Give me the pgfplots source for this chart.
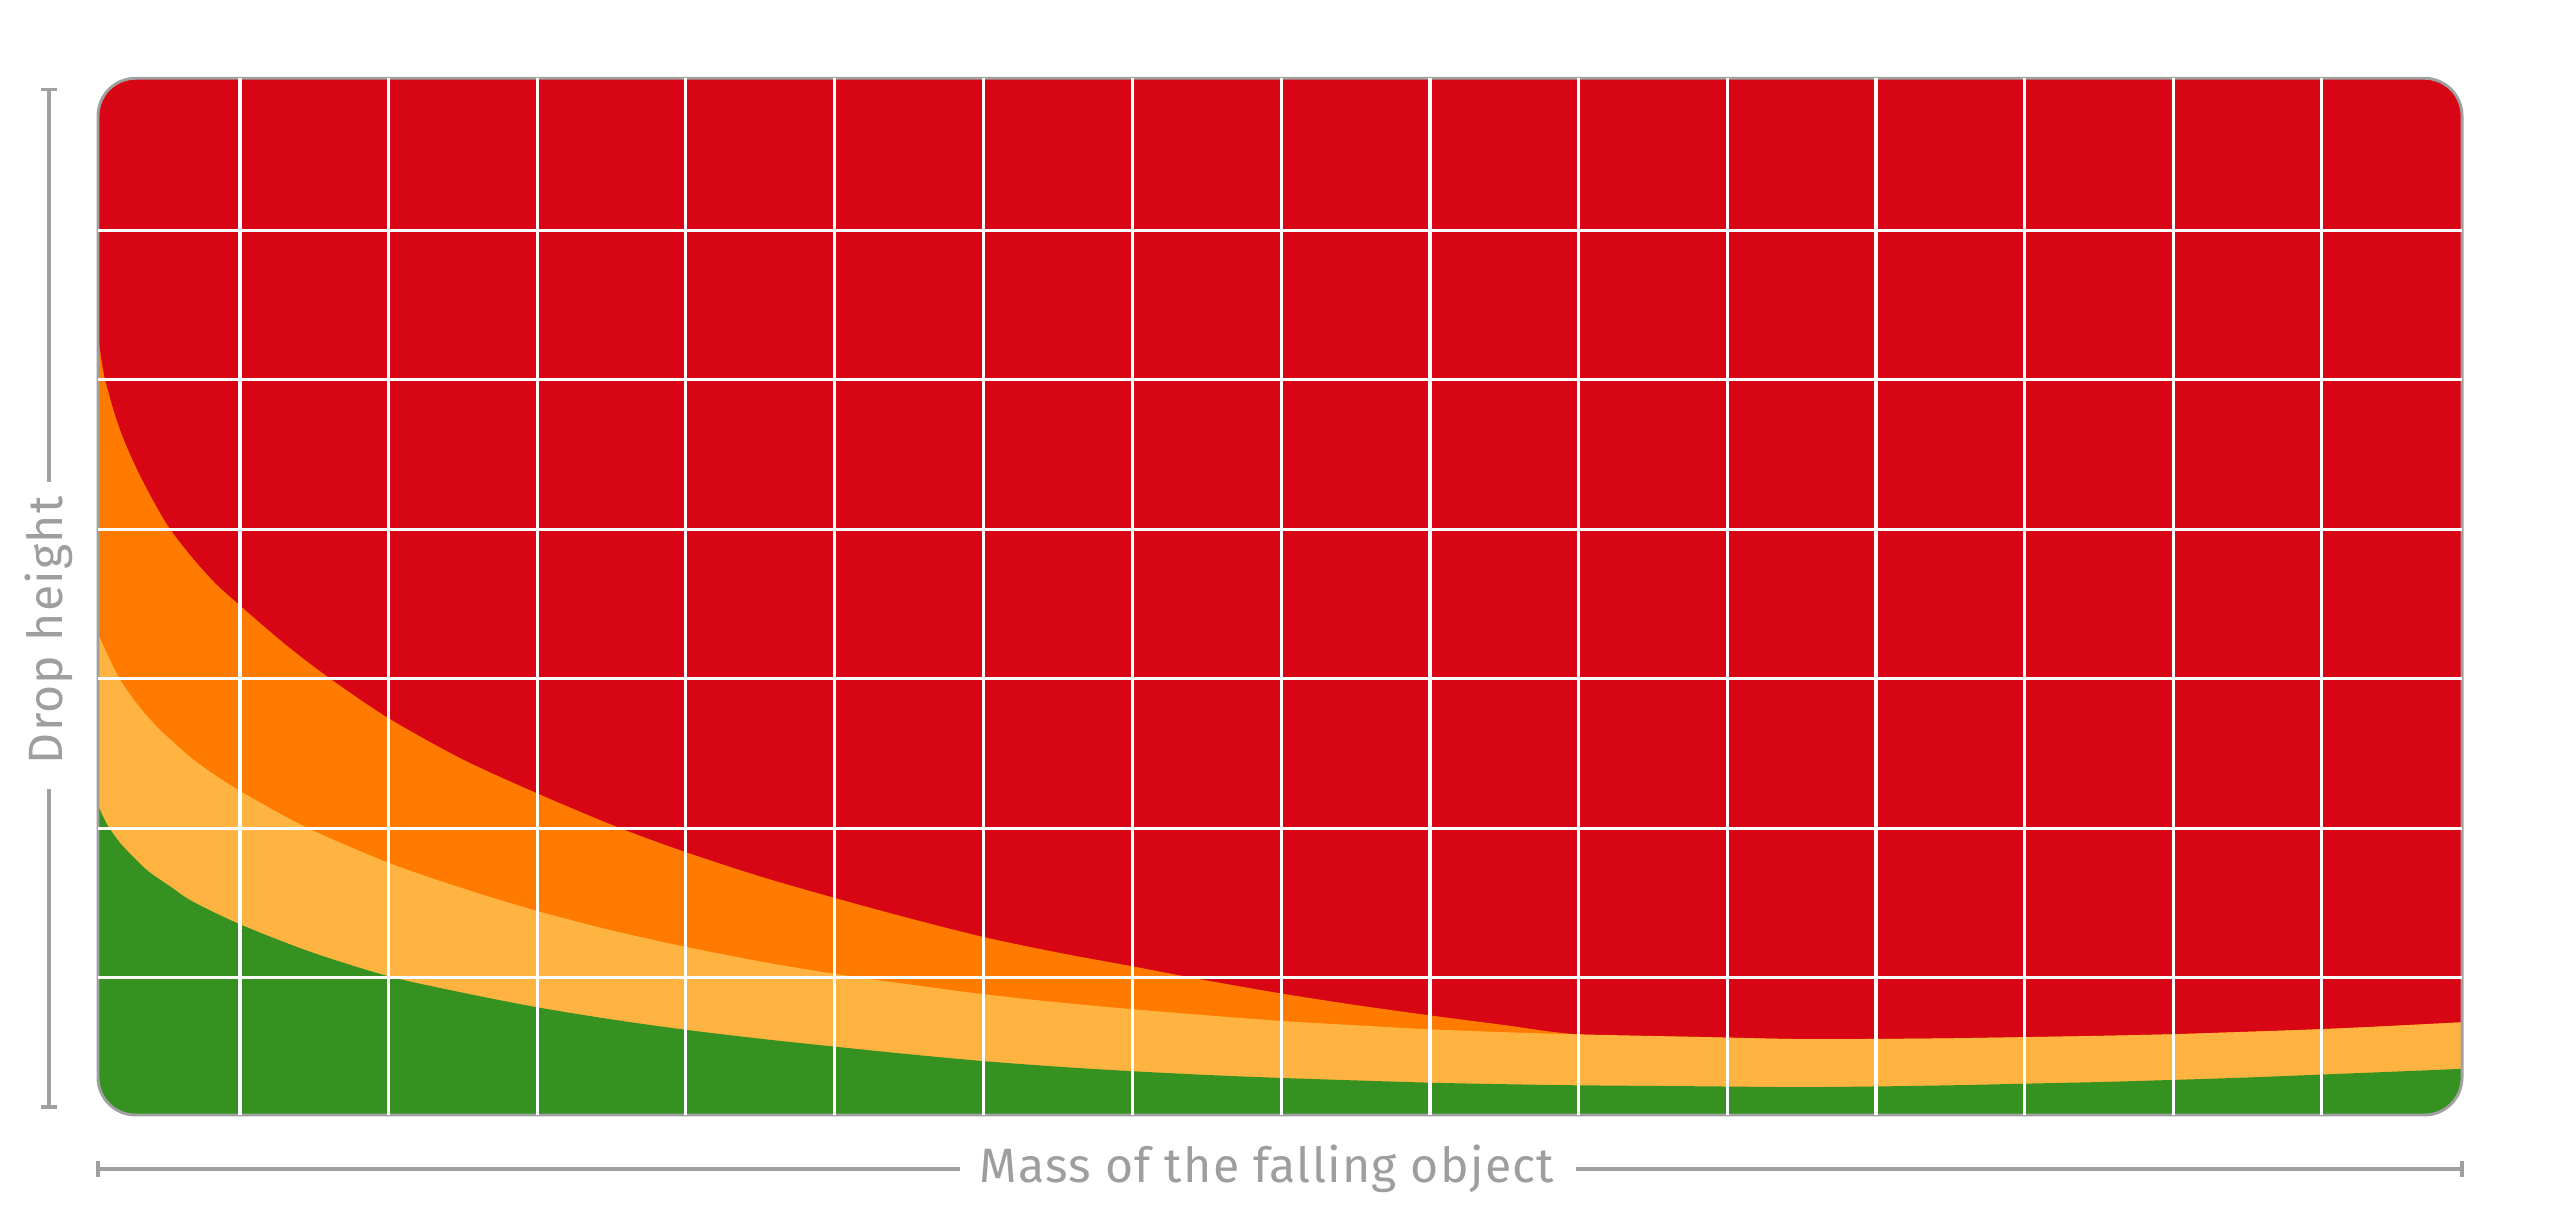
\documentclass[border=0pt]{standalone}
\usepackage{pgfplots}
\pgfplotsset{compat=1.18}
\usepackage{fontspec}
\setmainfont{Fira Sans}
\definecolor{cred}{RGB}{216,6,20}
\definecolor{corange}{RGB}{255,123,0}
\definecolor{clight}{RGB}{255,179,64}
\definecolor{cgreen}{RGB}{53,146,32}
\definecolor{cgray}{RGB}{160,160,160}
\definecolor{ctext}{RGB}{158,158,158}
\begin{document}
\begin{tikzpicture}[x=0.01cm,y=0.01cm]
\useasboundingbox (0,0) rectangle (1568,754);
\begin{axis}[
  at={(0.6cm,0.71cm)}, anchor=south west,
  x=0.01cm, y=0.01cm,
  xmin=60, xmax=1508, ymin=0, ymax=635,
  axis on top, clip=false,
  axis line style={draw=none},
  xtick={147,238,329,420,511,602.5,693.6,784.7,875.8,966.9,1058,1149,1240,1331,1422},
  ytick={84,175.6,267.2,358.8,450.4,542},
  xticklabels=\empty, yticklabels=\empty,
  tick style={draw=none},
  major tick length=0pt,
  grid=major,
  major grid style={white, line width=0.55pt},
]
\begin{scope}
\clip[rounded corners=0.23cm] (axis cs:60,0) rectangle (axis cs:1508,635);
\addplot[fill=cred, draw=none] coordinates {(60,635) (1508,635)} \closedcycle;
\addplot[fill=corange, draw=none, smooth, tension=0.5] coordinates {
(60,481) (61,470) (62.5,460) (64.4,450) (70,430) (76,413) (85,393) (95,374) (104,359) (118,341) (132,325.5) (147,312) (175,288) (202,267.4) (238,243) (283,218) (329,197) (379,176) (420,161) (466,146) (511,133) (557,120.5) (602.5,109) (648,99.5) (694,91) (737,82.8) (785,74.4) (830,67.4) (876,61) (920,55.3) (967,49.4) (1041,47.8) (1102,46.5) (1149,46.6) (1195,47) (1240,47.7) (1286,48.5) (1331,49.5) (1377,51) (1422,52.6) (1465,54.6) (1508,56.8)
} \closedcycle;
\addplot[fill=clight, draw=none, smooth, tension=0.5] coordinates {
(60,295) (66,281.5) (73.4,267) (82,254.3) (90,244.5) (100,234) (120,216.5) (147,198.5) (188,176) (238,154.5) (283,139) (329,125) (375,113) (420,103) (466,94) (511,86.5) (557,80) (602.5,74) (648,69) (694,64.8) (740,61) (785,57.6) (830,55) (876,52.5) (920,50.8) (967,49.4) (1041,47.8) (1102,46.5) (1149,46.6) (1195,47) (1240,47.7) (1286,48.5) (1331,49.5) (1377,51) (1422,52.6) (1465,54.6) (1508,56.8)
} \closedcycle;
\addplot[fill=cgreen, draw=none, smooth, tension=0.5] coordinates {
(60,190) (63,183) (67,175.6) (75,165) (90,150) (105,139.5) (117.6,131) (147,116.8) (190,100) (238,85) (283,75) (329,66) (375,58.5) (420,52.2) (466,46.7) (511,41.9) (557,37.2) (602.5,33) (648,29.6) (694,26.8) (740,24.5) (785,22.7) (830,21.2) (876,19.8) (920,18.9) (967,18.2) (1041,17.6) (1102,17.1) (1149,17.5) (1195,18.2) (1240,19.2) (1286,20.2) (1331,21.5) (1377,23) (1422,24.8) (1465,26.5) (1508,28.3)
} \closedcycle;
\end{scope}
\draw[cgray, line width=0.5pt, rounded corners=0.23cm] (axis cs:60,0) rectangle (axis cs:1508,635);
\end{axis}
% dimension lines
\draw[cgray, line width=0.55pt] (30,699) -- (30,459) (30,271) -- (30,76);
\draw[cgray, line width=0.55pt] (25,699) -- (35,699) (25,76) -- (35,76);
\draw[cgray, line width=0.55pt] (60,38) -- (588,38) (965,38) -- (1508,38);
\draw[cgray, line width=0.55pt] (60,33) -- (60,43) (1508,33) -- (1508,43);
\node[anchor=base, text=ctext, inner sep=0pt, font=\fontsize{8.4pt}{10pt}\selectfont\addfontfeature{LetterSpace=2.6}] at (776,30) {Mass of the falling object};
\node[anchor=base, rotate=90, text=ctext, inner sep=0pt, font=\fontsize{8.4pt}{10pt}\selectfont\addfontfeature{LetterSpace=2.6}] at (38.4,368) {Drop height};
\end{tikzpicture}
\end{document}
